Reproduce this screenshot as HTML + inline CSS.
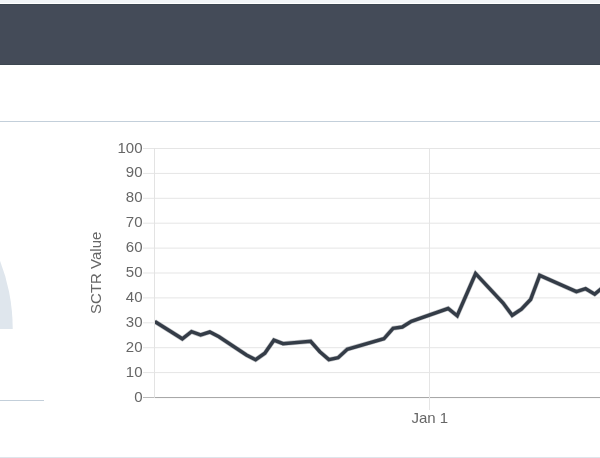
<!DOCTYPE html>
<html><head><meta charset="utf-8"><title>SCTR</title>
<style>
html,body{margin:0;padding:0;background:#fff;}
body{width:600px;height:458px;overflow:hidden;position:relative;font-family:"Liberation Sans",Arial,sans-serif;}
.topstrip{position:absolute;left:0;top:0;width:600px;height:3px;background:#f1f4f7;}
.header{position:absolute;left:0;top:4px;width:600px;height:59px;background:#444b58;border-top:1px solid #3c4650;border-bottom:1px solid #3c4650;}
.hr1{position:absolute;left:0;top:121px;width:600px;height:1px;background:#c3cfda;}
.hr2{position:absolute;left:0;top:400px;width:44px;height:1px;background:#c3cfda;}
.bottom{position:absolute;left:0;top:457px;width:600px;height:1px;background:#dee5eb;}
svg{position:absolute;left:0;top:0;}
svg text{font-family:"Liberation Sans",Arial,sans-serif;font-size:15px;fill:#666;}
</style></head><body>
<div class="topstrip"></div>
<div class="header"></div>
<div class="hr1"></div>
<div class="hr2"></div>
<div class="bottom"></div>
<svg width="600" height="458" viewBox="0 0 600 458">
<defs><clipPath id="gc"><rect x="0" y="200" width="40" height="129"/></clipPath>
<clipPath id="cc"><rect x="155" y="140" width="445" height="260"/></clipPath></defs>
<circle cx="-174.6" cy="328.5" r="187.3" fill="#dfe6ed" clip-path="url(#gc)"/>
<g>
<rect x="143" y="397.00" width="457" height="1" fill="#b9b9b9"/>
<rect x="143" y="372.10" width="457" height="1" fill="#e5e5e5"/>
<rect x="143" y="347.20" width="457" height="1" fill="#e5e5e5"/>
<rect x="143" y="322.30" width="457" height="1" fill="#e5e5e5"/>
<rect x="143" y="297.40" width="457" height="1" fill="#e5e5e5"/>
<rect x="143" y="272.50" width="457" height="1" fill="#e5e5e5"/>
<rect x="143" y="247.60" width="457" height="1" fill="#e5e5e5"/>
<rect x="143" y="222.70" width="457" height="1" fill="#e5e5e5"/>
<rect x="143" y="197.80" width="457" height="1" fill="#e5e5e5"/>
<rect x="143" y="172.90" width="457" height="1" fill="#e5e5e5"/>
<rect x="143" y="148.00" width="457" height="1" fill="#e5e5e5"/>
<rect x="154" y="148" width="1" height="250" fill="#e3e3e3"/>
<rect x="154.5" y="397.1" width="446" height="1.1" fill="#000" fill-opacity="0.1"/>
<rect x="429" y="148" width="1" height="262" fill="#e5e5e5"/>
</g>
<g>
<text x="142.5" y="401.5" text-anchor="end">0</text>
<text x="142.5" y="376.6" text-anchor="end">10</text>
<text x="142.5" y="351.7" text-anchor="end">20</text>
<text x="142.5" y="326.8" text-anchor="end">30</text>
<text x="142.5" y="301.9" text-anchor="end">40</text>
<text x="142.5" y="277.0" text-anchor="end">50</text>
<text x="142.5" y="252.1" text-anchor="end">60</text>
<text x="142.5" y="227.2" text-anchor="end">70</text>
<text x="142.5" y="202.3" text-anchor="end">80</text>
<text x="142.5" y="177.4" text-anchor="end">90</text>
<text x="142.5" y="152.5" text-anchor="end">100</text>
</g>
<text x="429.8" y="422.6" text-anchor="middle">Jan 1</text>
<text transform="translate(100.5,272.8) rotate(-90)" text-anchor="middle">SCTR Value</text>
<g clip-path="url(#cc)" fill="none" stroke="#343c47" stroke-linejoin="miter" stroke-linecap="butt"><path d="M154.8,321.5 L182.3,338.8 L191.5,331.7 L200.6,335.0 L209.8,332.0 L219.0,336.7 L246.4,355.0 L255.6,359.7 L264.8,353.3 L273.9,340.2 L283.1,343.7 L310.6,341.3 L319.8,351.7 L328.9,359.6 L338.1,357.7 L347.3,349.2 L383.9,338.8 L393.1,328.3 L402.3,327.0 L411.4,321.3 L448.1,308.5 L457.2,315.8 L475.6,273.6 L503.1,303.0 L512.2,315.3 L521.4,309.2 L530.6,299.5 L539.7,275.3 L576.4,291.7 L585.6,288.7 L594.7,294.2 L603.9,286.5" stroke-width="4.7" stroke-opacity="0.3"/><path d="M154.8,321.5 L182.3,338.8 L191.5,331.7 L200.6,335.0 L209.8,332.0 L219.0,336.7 L246.4,355.0 L255.6,359.7 L264.8,353.3 L273.9,340.2 L283.1,343.7 L310.6,341.3 L319.8,351.7 L328.9,359.6 L338.1,357.7 L347.3,349.2 L383.9,338.8 L393.1,328.3 L402.3,327.0 L411.4,321.3 L448.1,308.5 L457.2,315.8 L475.6,273.6 L503.1,303.0 L512.2,315.3 L521.4,309.2 L530.6,299.5 L539.7,275.3 L576.4,291.7 L585.6,288.7 L594.7,294.2 L603.9,286.5" stroke-width="3.5"/></g>
</svg>
</body></html>
